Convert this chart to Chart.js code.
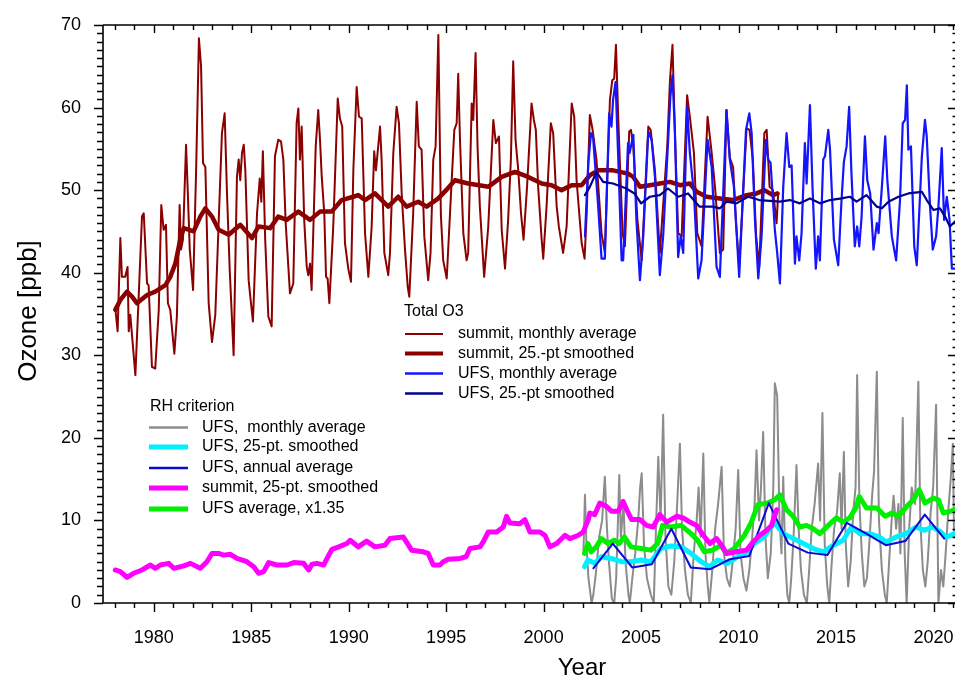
<!DOCTYPE html>
<html><head><meta charset="utf-8">
<script src="https://cdn.jsdelivr.net/npm/chart.js@4"></script>
<style>html,body{margin:0;padding:0;background:#fff}canvas{display:block}</style>
</head><body>
<canvas id="c" width="959" height="684"></canvas>
<script>
// ---- DATA (decimal year, ppb) ----
const summitMonthly = [[1978.03,35.7],[1978.15,32.9],[1978.29,44.2],[1978.37,39.5],[1978.54,39.5],[1978.66,40.7],[1978.72,32.9],[1978.8,34.9],[1979.06,27.6],[1979.23,37.1],[1979.4,46.8],[1979.49,47.2],[1979.66,38.7],[1979.74,38.5],[1979.91,28.6],[1980.08,28.4],[1980.26,35.5],[1980.39,48.2],[1980.51,45.2],[1980.63,45.8],[1980.73,36.3],[1980.85,35.5],[1981.06,30.2],[1981.19,34.7],[1981.33,48.2],[1981.4,42.8],[1981.5,44.0],[1981.66,55.5],[1981.74,50.4],[1981.85,42.8],[1982.02,37.9],[1982.18,52.8],[1982.32,68.4],[1982.43,65.0],[1982.53,53.3],[1982.65,52.8],[1982.82,36.3],[1982.99,31.6],[1983.16,34.9],[1983.5,56.9],[1983.64,59.3],[1983.76,49.6],[1983.9,40.3],[1984.1,30.0],[1984.27,51.6],[1984.36,53.7],[1984.44,51.2],[1984.53,54.5],[1984.62,55.5],[1984.7,52.4],[1984.87,39.1],[1984.99,36.3],[1985.09,34.1],[1985.3,47.2],[1985.44,51.4],[1985.52,48.6],[1985.6,54.7],[1985.72,44.0],[1985.88,34.7],[1986.05,33.5],[1986.22,54.1],[1986.39,56.1],[1986.53,55.9],[1986.65,53.7],[1986.77,46.0],[1986.99,37.5],[1987.16,38.7],[1987.33,58.1],[1987.42,59.9],[1987.5,53.7],[1987.59,57.7],[1987.72,46.4],[1987.85,40.7],[1987.93,39.7],[1988.02,41.1],[1988.1,37.9],[1988.31,55.3],[1988.44,59.7],[1988.53,56.1],[1988.62,51.6],[1988.75,47.2],[1988.84,39.5],[1988.92,39.3],[1989.01,36.3],[1989.21,45.6],[1989.44,61.1],[1989.55,58.7],[1989.67,57.7],[1989.81,43.6],[1989.98,40.5],[1990.12,38.9],[1990.24,52.4],[1990.41,62.5],[1990.53,58.9],[1990.67,58.7],[1990.84,44.8],[1991.01,39.5],[1991.18,45.6],[1991.31,54.7],[1991.4,52.4],[1991.61,57.7],[1991.69,53.7],[1991.83,42.4],[1992.03,39.7],[1992.12,42.4],[1992.29,54.5],[1992.46,60.1],[1992.58,58.1],[1992.72,49.6],[1992.89,42.8],[1993.03,38.3],[1993.11,37.1],[1993.31,47.2],[1993.49,60.7],[1993.6,55.3],[1993.74,54.9],[1993.88,44.4],[1994.08,39.1],[1994.2,42.4],[1994.34,53.7],[1994.46,55.3],[1994.6,68.8],[1994.73,47.0],[1994.85,41.5],[1995.03,39.3],[1995.25,49.6],[1995.42,57.3],[1995.54,58.1],[1995.62,64.1],[1995.71,56.1],[1995.88,44.8],[1996.05,41.5],[1996.13,42.4],[1996.31,60.5],[1996.39,58.5],[1996.51,66.6],[1996.61,55.3],[1996.73,48.0],[1996.95,39.5],[1997.16,45.6],[1997.42,58.5],[1997.55,55.7],[1997.71,56.5],[1997.85,45.2],[1998.02,40.5],[1998.18,46.4],[1998.32,53.7],[1998.44,65.6],[1998.56,56.1],[1998.7,52.4],[1998.84,47.2],[1998.97,44.0],[1999.15,50.4],[1999.38,60.5],[1999.5,58.5],[1999.6,57.3],[1999.72,50.4],[1999.9,44.0],[1999.98,41.7],[2000.15,48.0],[2000.37,58.1],[2000.49,56.9],[2000.67,48.0],[2000.78,45.6],[2001.0,42.4],[2001.18,45.6],[2001.44,60.5],[2001.57,58.9],[2001.69,51.2],[2001.95,43.6],[2002.1,41.7],[2002.21,47.2],[2002.37,59.1],[2002.5,57.5],[2002.71,53.7],[2002.97,44.8],[2003.14,42.4],[2003.4,60.9],[2003.52,63.3],[2003.62,63.5],[2003.71,67.6],[2003.83,58.5],[2004.05,44.8],[2004.17,43.2],[2004.39,57.1],[2004.48,57.3],[2004.6,55.3],[2004.81,46.4],[2005.03,41.5],[2005.37,57.7],[2005.49,57.3],[2005.71,52.4],[2005.96,42.4],[2006.34,55.3],[2006.48,63.3],[2006.61,67.6],[2006.73,57.3],[2006.9,44.8],[2007.08,44.4],[2007.36,61.5],[2007.5,58.9],[2007.71,54.5],[2007.88,44.8],[2008.1,43.2],[2008.41,58.9],[2008.62,54.5],[2008.79,50.4],[2009.04,42.4],[2009.21,42.8],[2009.38,59.7],[2009.55,53.9],[2009.72,52.8],[2009.86,46.4],[2010.03,40.7],[2010.41,57.5],[2010.56,57.3],[2010.73,53.7],[2010.9,44.4],[2011.06,40.7],[2011.32,56.9],[2011.44,57.3],[2011.59,50.4],[2011.76,50.0],[2011.95,46.0],[2012.03,49.6]];

const summitSmoothed = [[1978.03,35.5],[1978.29,36.7],[1978.63,37.7],[1978.89,37.1],[1979.14,36.3],[1979.66,37.3],[1980.08,37.7],[1980.6,38.5],[1980.85,39.5],[1981.11,41.1],[1981.36,44.0],[1981.54,45.4],[1982.05,45.0],[1982.39,46.8],[1982.65,47.8],[1982.99,46.8],[1983.33,45.2],[1983.85,44.6],[1984.44,45.8],[1985.04,44.2],[1985.38,45.6],[1985.98,45.4],[1986.39,46.8],[1986.82,46.4],[1987.42,47.4],[1988.02,46.4],[1988.53,47.4],[1989.13,47.4],[1989.64,48.8],[1990.24,49.2],[1990.49,49.4],[1990.84,48.8],[1991.35,49.6],[1992.03,48.0],[1992.54,49.2],[1992.97,48.0],[1993.57,48.6],[1994.0,48.0],[1994.6,49.0],[1995.0,50.0],[1995.45,51.2],[1996.13,50.8],[1997.16,50.4],[1997.85,51.6],[1998.53,52.2],[1999.21,51.6],[1999.9,50.8],[2000.41,50.6],[2000.92,50.0],[2001.44,50.6],[2001.95,50.6],[2002.37,51.8],[2002.8,52.4],[2003.56,52.4],[2004.33,52.0],[2004.6,51.6],[2004.94,50.4],[2005.45,50.6],[2005.96,50.8],[2006.48,51.0],[2006.99,50.6],[2007.5,50.8],[2007.85,49.8],[2008.36,49.2],[2009.04,49.0],[2009.72,48.8],[2010.41,49.4],[2010.92,49.6],[2011.32,50.0],[2011.76,49.4],[2012.0,49.6]];

const ufsMonthly = [[2002.12,44.4],[2002.29,53.3],[2002.43,56.9],[2002.54,56.3],[2002.8,48.0],[2002.97,41.7],[2003.14,41.7],[2003.36,59.3],[2003.48,57.7],[2003.56,60.9],[2003.69,63.1],[2003.83,53.7],[2004.0,41.5],[2004.08,41.5],[2004.33,55.7],[2004.41,54.5],[2004.6,56.7],[2004.76,46.4],[2004.94,39.1],[2005.11,44.4],[2005.37,57.1],[2005.54,56.1],[2005.71,51.6],[2005.96,39.7],[2006.13,44.4],[2006.38,55.7],[2006.5,61.3],[2006.61,63.9],[2006.73,57.3],[2006.9,41.9],[2007.03,44.4],[2007.16,42.4],[2007.36,60.1],[2007.5,54.5],[2007.71,49.6],[2007.93,39.3],[2008.1,41.5],[2008.41,56.1],[2008.62,52.8],[2008.87,40.7],[2009.04,39.5],[2009.38,59.7],[2009.55,53.7],[2009.76,50.4],[2010.03,39.5],[2010.38,57.3],[2010.55,59.3],[2010.67,56.9],[2010.84,46.4],[2011.01,39.3],[2011.18,44.4],[2011.4,56.1],[2011.52,53.7],[2011.64,53.3],[2011.86,45.2],[2011.98,42.4],[2012.12,38.7],[2012.29,50.4],[2012.46,56.9],[2012.6,52.8],[2012.72,53.0],[2012.89,41.1],[2012.97,44.4],[2013.11,41.5],[2013.23,44.8],[2013.4,55.7],[2013.49,50.8],[2013.66,60.3],[2013.79,50.4],[2013.96,40.5],[2014.08,44.4],[2014.17,41.5],[2014.34,53.7],[2014.43,54.1],[2014.6,57.3],[2014.69,54.9],[2014.89,44.0],[2015.11,40.9],[2015.28,48.8],[2015.4,53.4],[2015.54,55.3],[2015.67,60.1],[2015.79,52.0],[2015.96,43.2],[2016.08,45.6],[2016.19,43.2],[2016.31,46.8],[2016.48,56.5],[2016.6,51.2],[2016.75,49.6],[2016.92,42.8],[2017.09,46.0],[2017.18,44.8],[2017.35,50.4],[2017.52,56.5],[2017.63,51.2],[2017.86,44.4],[2018.08,41.5],[2018.28,48.8],[2018.42,58.1],[2018.54,58.5],[2018.63,62.7],[2018.71,54.9],[2018.84,55.3],[2019.01,43.2],[2019.14,40.9],[2019.4,54.1],[2019.56,58.5],[2019.65,56.5],[2019.82,48.0],[2019.96,42.8],[2020.13,44.4],[2020.25,48.0],[2020.42,55.1],[2020.54,46.4],[2020.68,49.2],[2020.82,46.4],[2020.94,40.5],[2021.08,40.5]];

const ufsSmoothed = [[2002.12,49.4],[2002.37,50.4],[2002.71,52.2],[2003.05,51.0],[2003.56,50.8],[2004.24,50.2],[2004.66,49.6],[2005.0,48.4],[2005.45,49.2],[2005.96,49.4],[2006.38,50.2],[2006.9,49.2],[2007.41,49.6],[2008.0,48.0],[2008.68,48.0],[2009.04,47.8],[2009.38,48.6],[2009.89,48.4],[2010.49,49.2],[2011.06,48.8],[2011.6,48.7],[2012.12,48.6],[2012.63,48.8],[2013.14,48.4],[2013.66,49.0],[2014.17,48.4],[2014.69,48.8],[2015.28,49.0],[2015.71,49.2],[2016.05,48.6],[2016.56,49.4],[2017.09,48.0],[2017.35,47.8],[2017.69,48.6],[2018.2,49.2],[2018.71,49.6],[2019.4,49.8],[2019.65,48.8],[2019.99,47.6],[2020.33,47.8],[2020.59,46.8],[2020.84,45.6],[2021.1,46.2]];

const rhUfsMonthly = [[2002.04,6],[2002.12,13.1],[2002.2,7],[2002.3,3],[2002.46,0],[2002.55,1],[2002.7,4],[2002.85,8],[2003.0,10],[2003.14,15.3],[2003.25,9],[2003.35,5],[2003.5,0.5],[2003.62,0],[2003.72,3],[2003.8,9],[2003.88,15.5],[2003.96,8],[2004.1,12],[2004.2,5],[2004.35,1],[2004.42,0],[2004.55,3],[2004.7,6],[2004.85,10],[2004.95,14],[2005.03,15.7],[2005.15,7],[2005.3,3],[2005.5,1],[2005.65,0],[2005.75,8],[2005.88,17.7],[2006.0,10],[2006.13,22.8],[2006.25,8],[2006.4,2],[2006.55,1],[2006.7,5],[2006.85,12],[2006.99,19.3],[2007.1,9],[2007.25,4],[2007.4,1],[2007.55,0],[2007.7,6],[2007.85,10],[2007.95,14],[2008.05,8],[2008.19,18.1],[2008.3,6],[2008.42,2],[2008.5,0],[2008.65,4],[2008.8,9],[2008.95,12],[2009.13,16.5],[2009.25,6],[2009.4,3],[2009.55,2],[2009.7,5],[2009.85,9],[2009.98,16.1],[2010.1,6],[2010.25,3],[2010.4,1.5],[2010.55,4],[2010.7,8],[2010.82,12],[2010.92,18.5],[2011.05,10],[2011.15,14],[2011.26,20.7],[2011.38,8],[2011.5,3],[2011.65,6],[2011.78,14],[2011.86,26.6],[2011.98,25.1],[2012.1,10],[2012.2,6],[2012.29,15.3],[2012.4,5],[2012.5,1],[2012.6,0],[2012.7,3],[2012.82,8],[2012.97,16.7],[2013.08,9],[2013.2,4],[2013.35,1],[2013.5,0],[2013.62,4],[2013.75,9],[2013.9,12],[2014.08,16.9],[2014.18,10],[2014.3,23.0],[2014.42,7],[2014.55,2],[2014.65,0],[2014.78,5],[2014.9,9],[2015.05,11],[2015.19,15.7],[2015.28,9],[2015.4,18.3],[2015.5,7],[2015.62,2],[2015.75,5],[2015.88,11],[2016.0,14],[2016.08,27.6],[2016.2,12],[2016.32,6],[2016.45,2],[2016.58,3],[2016.7,7],[2016.85,13],[2016.95,16],[2017.09,28.0],[2017.2,10],[2017.35,4],[2017.5,1],[2017.6,0],[2017.72,5],[2017.85,10],[2017.95,13],[2018.08,9],[2018.2,12],[2018.3,6],[2018.42,22.4],[2018.52,6],[2018.62,0],[2018.75,9],[2018.88,14],[2019.05,12],[2019.22,26.8],[2019.32,10],[2019.45,4],[2019.58,2],[2019.7,5],[2019.85,11],[2019.98,14],[2020.13,24.0],[2020.25,0],[2020.38,4],[2020.5,2],[2020.62,6],[2020.75,11],[2020.88,15],[2020.99,19.3],[2021.05,8]];

const rhUfsSmoothed = [[2002.1,4.4],[2002.27,5.2],[2002.62,4.8],[2002.96,5.6],[2003.47,5.4],[2003.98,5.0],[2004.48,5.0],[2004.99,5.2],[2005.5,5.0],[2006.01,6.6],[2006.53,6.9],[2007.05,6.8],[2007.56,6.0],[2008.08,5.0],[2008.5,4.4],[2008.93,5.2],[2009.44,4.8],[2009.95,5.6],[2010.46,6.2],[2010.8,7.2],[2011.31,8.0],[2011.6,9.0],[2011.86,9.7],[2012.29,8.4],[2012.8,7.8],[2013.32,7.2],[2013.83,6.6],[2014.34,6.2],[2014.86,7.0],[2015.36,7.6],[2015.79,9.2],[2016.21,8.4],[2016.72,8.4],[2017.23,8.0],[2017.57,7.4],[2018.08,8.0],[2018.59,8.4],[2019.1,9.2],[2019.52,8.8],[2019.95,9.2],[2020.37,8.6],[2020.63,8.0],[2020.89,8.2],[2021.05,8.4]];

const rhUfsAnnual = [[2002.55,4.2],[2003.55,7.2],[2004.55,4.3],[2005.55,4.7],[2006.55,9.0],[2007.55,4.3],[2008.55,4.1],[2009.55,5.3],[2010.55,5.7],[2011.55,12.1],[2012.55,7.2],[2013.55,6.1],[2014.55,5.8],[2015.55,9.7],[2016.55,8.4],[2017.55,7.0],[2018.55,7.5],[2019.55,10.7],[2020.55,7.8]];

const rhSummitSmoothed = [[1978.03,4.0],[1978.29,3.8],[1978.63,3.1],[1978.97,3.6],[1979.4,4.0],[1979.83,4.6],[1980.08,4.2],[1980.34,4.6],[1980.77,4.8],[1981.03,4.2],[1981.54,4.5],[1981.88,4.8],[1982.39,4.2],[1982.73,5.0],[1982.99,6.0],[1983.33,6.0],[1983.59,5.8],[1983.93,5.9],[1984.27,5.4],[1984.78,5.0],[1985.13,4.4],[1985.38,3.6],[1985.64,3.8],[1985.9,4.9],[1986.32,4.6],[1986.84,4.6],[1987.18,4.9],[1987.69,4.8],[1987.95,4.0],[1988.12,4.7],[1988.37,4.8],[1988.72,4.6],[1988.89,5.4],[1989.14,6.5],[1989.49,6.8],[1989.91,7.2],[1990.08,7.6],[1990.49,6.8],[1990.92,7.5],[1991.35,6.8],[1991.86,7.0],[1992.12,7.8],[1992.8,8.0],[1993.23,6.4],[1993.83,6.2],[1994.08,6.0],[1994.34,4.6],[1994.68,4.6],[1994.85,5.0],[1995.11,5.3],[1995.71,5.4],[1996.02,5.6],[1996.22,6.6],[1996.74,6.8],[1996.9,7.4],[1997.16,8.6],[1997.59,8.6],[1997.93,9.2],[1998.1,10.5],[1998.27,9.7],[1998.78,9.6],[1999.04,10.1],[1999.3,8.6],[1999.81,8.6],[2000.07,8.2],[2000.32,6.8],[2000.67,7.2],[2001.1,8.2],[2001.35,7.8],[2001.78,8.2],[2002.03,8.6],[2002.29,10.1],[2002.37,10.9],[2002.62,10.7],[2002.88,12.1],[2003.23,11.7],[2003.48,11.1],[2003.83,11.1],[2004.08,12.3],[2004.26,11.3],[2004.51,10.1],[2004.94,10.1],[2005.28,9.4],[2005.62,9.2],[2005.96,10.7],[2006.31,9.8],[2006.82,10.5],[2007.16,10.3],[2007.5,9.8],[2007.85,9.4],[2008.19,8.2],[2008.53,7.2],[2008.87,7.8],[2009.13,7.0],[2009.38,6.0],[2009.89,6.2],[2010.41,6.4],[2010.75,7.4],[2011.09,8.2],[2011.44,8.8],[2011.69,9.4],[2011.95,11.3]];

const rhUfsAverageScaled = [[2002.1,6.0],[2002.27,7.2],[2002.44,6.2],[2002.7,6.8],[2002.96,7.8],[2003.3,7.2],[2003.63,7.6],[2003.88,7.2],[2004.14,8.0],[2004.48,6.8],[2004.99,6.6],[2005.5,6.4],[2005.85,7.2],[2006.1,9.4],[2006.53,9.2],[2007.05,9.4],[2007.56,8.4],[2007.9,7.6],[2008.24,6.2],[2008.67,6.4],[2009.1,7.0],[2009.35,6.0],[2009.78,6.6],[2010.3,8.2],[2010.64,9.7],[2010.99,11.9],[2011.5,12.1],[2011.85,12.5],[2012.12,13.1],[2012.46,11.3],[2012.8,10.5],[2013.14,9.2],[2013.49,9.4],[2013.83,9.0],[2014.17,8.4],[2014.6,9.4],[2015.02,10.3],[2015.36,9.8],[2015.7,10.3],[2016.05,11.7],[2016.19,12.9],[2016.56,11.5],[2017.09,11.5],[2017.52,10.5],[2017.86,10.9],[2018.2,10.5],[2018.63,11.7],[2018.97,12.5],[2019.26,13.7],[2019.56,12.1],[2019.99,12.7],[2020.25,12.5],[2020.5,10.9],[2020.84,11.1],[2021.1,11.3]];

const xTickYears = [1980,1985,1990,1995,2000,2005,2010,2015,2020];
const yTickValues = [0,10,20,30,40,50,60,70];

const FONT = '"Liberation Sans", Arial, Helvetica, sans-serif';
const pts = a => a.map(([x,y]) => ({x, y}));
const ds = (label, data, color, width, order) => ({label, data: pts(data), borderColor: color, backgroundColor: color, borderWidth: width, pointRadius: 0, tension: 0, order, borderJoinStyle: 'round', borderCapStyle: 'round', fill: false});

const C = {
  summit: '#8b0000', ufs: '#1414ff', ufsS: '#000090', gray: '#8c8c8c',
  cyan: '#00f0ff', blueA: '#0a0ad2', magenta: '#ff00ff', green: '#00ee00'
};

const legends = [
  {title: 'Total O3', tx: 404, ty: 312, lx1: 405, lx2: 443, tx2: 458, rows: [
    ['summit, monthly average', C.summit, 2, 334],
    ['summit, 25.-pt smoothed', C.summit, 4, 353.5],
    ['UFS, monthly average', C.ufs, 2.5, 373.5],
    ['UFS, 25.-pt smoothed', C.ufsS, 2.5, 393.5]
  ]},
  {title: 'RH criterion', tx: 150, ty: 407, lx1: 149, lx2: 188, tx2: 202, rows: [
    ['UFS,  monthly average', C.gray, 2.5, 427.5],
    ['UFS, 25-pt. smoothed', C.cyan, 5, 447],
    ['UFS, annual average', C.blueA, 2.5, 468],
    ['summit, 25-pt. smoothed', C.magenta, 5, 488],
    ['UFS average, x1.35', C.green, 5, 509]
  ]}
];

const decor = {
  id: 'decor',
  afterDraw(chart) {
    const {ctx, chartArea: a, scales: {x, y}} = chart;
    ctx.save();
    ctx.strokeStyle = '#000';
    ctx.lineWidth = 1.6;
    ctx.beginPath();
    ctx.moveTo(a.left, a.top); ctx.lineTo(a.left, a.bottom); ctx.lineTo(a.right, a.bottom);
    ctx.moveTo(a.left, a.top); ctx.lineTo(a.right, a.top);
    ctx.stroke();
    ctx.lineWidth = 1.4;
    ctx.beginPath();
    for (let yr = 1978; yr <= 2021; yr++) {
      const px = Math.round(x.getPixelForValue(yr)) + 0.5;
      const major = yr % 5 === 0;
      const lb = major ? 9 : 5, lt = major ? 8 : 5;
      ctx.moveTo(px, a.bottom); ctx.lineTo(px, a.bottom + lb);
      ctx.moveTo(px, a.top); ctx.lineTo(px, a.top + lt);
    }
    for (let v = 0; v <= 70; v++) {
      const py = Math.round(y.getPixelForValue(v)) + 0.5;
      const major = v % 10 === 0;
      const l = major ? 9 : 6, r = major ? 7 : 2.5;
      ctx.moveTo(a.left - l, py); ctx.lineTo(a.left, py);
      ctx.moveTo(a.right - r, py); ctx.lineTo(a.right, py);
    }
    ctx.stroke();
    // axis titles
    ctx.fillStyle = '#000';
    ctx.font = '24px ' + FONT;
    ctx.textAlign = 'center'; ctx.textBaseline = 'middle';
    ctx.fillText('Year', 582, 668);
    ctx.save();
    ctx.translate(29, 311); ctx.rotate(-Math.PI / 2);
    ctx.font = '26px ' + FONT;
    ctx.fillText('Ozone [ppb]', 0, 0);
    ctx.restore();
    // legends
    ctx.font = '16px ' + FONT;
    ctx.textAlign = 'left'; ctx.textBaseline = 'middle';
    for (const L of legends) {
      ctx.fillStyle = '#000';
      ctx.fillText(L.title, L.tx, L.ty);
      for (const [txt, col, w, ry] of L.rows) {
        ctx.strokeStyle = col; ctx.lineWidth = w; ctx.lineCap = 'butt';
        ctx.beginPath(); ctx.moveTo(L.lx1, ry); ctx.lineTo(L.lx2, ry); ctx.stroke();
        ctx.fillText(txt, L.tx2, ry);
      }
    }
    ctx.restore();
  }
};

new Chart(document.getElementById('c'), {
  type: 'line',
  data: { datasets: [
    ds('RH UFS monthly average', rhUfsMonthly, C.gray, 2, 10),
    ds('summit monthly average', summitMonthly, C.summit, 2, 9),
    ds('summit 25-pt smoothed', summitSmoothed, C.summit, 4.5, 8),
    ds('UFS monthly average', ufsMonthly, C.ufs, 2.2, 7),
    ds('UFS 25-pt smoothed', ufsSmoothed, C.ufsS, 2.2, 6),
    ds('RH UFS 25-pt smoothed', rhUfsSmoothed, C.cyan, 5, 5),
    ds('RH UFS average x1.35', rhUfsAverageScaled, C.green, 5, 4),
    ds('RH UFS annual average', rhUfsAnnual, C.blueA, 2, 3),
    ds('RH summit 25-pt smoothed', rhSummitSmoothed, C.magenta, 5, 2)
  ]},
  options: {
    responsive: false, animation: false, devicePixelRatio: 1,
    layout: { padding: { top: 25, right: 4, left: 0, bottom: 0 } },
    plugins: { legend: { display: false }, tooltip: { enabled: false } },
    scales: {
      x: { type: 'linear', min: 1977.4, max: 2021.1,
        afterFit: s => { s.height = 81; s.paddingLeft = 0; s.paddingRight = 0; },
        afterBuildTicks: s => { s.ticks = xTickYears.map(v => ({value: v})); },
        grid: { display: false }, border: { display: false },
        ticks: { padding: 16, color: '#000', font: { family: FONT, size: 18 }, maxRotation: 0, callback: v => String(v) } },
      y: { type: 'linear', min: 0, max: 70,
        afterFit: s => { s.width = 103; s.paddingTop = 0; s.paddingBottom = 0; },
        afterBuildTicks: s => { s.ticks = yTickValues.map(v => ({value: v})); },
        grid: { display: false }, border: { display: false },
        ticks: { padding: 14, color: '#000', font: { family: FONT, size: 18 } } }
    }
  },
  plugins: [decor]
});
</script>
</body></html>
